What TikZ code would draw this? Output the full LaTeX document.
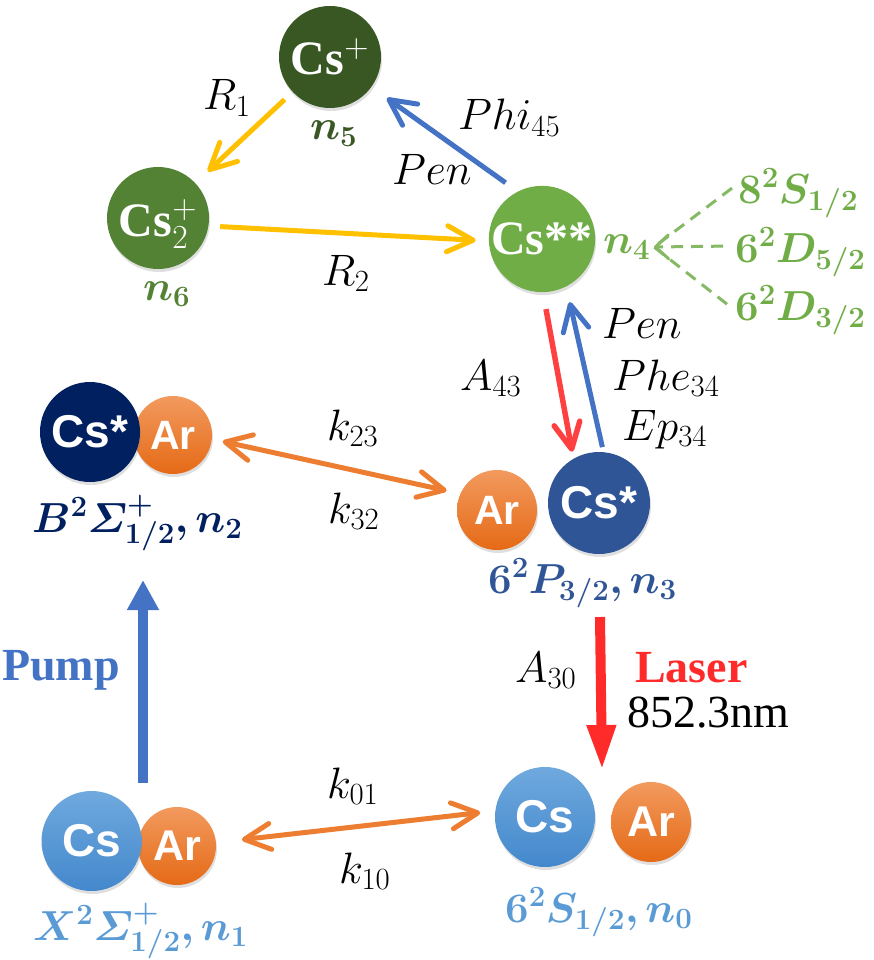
\documentclass[tikz,border=0pt]{standalone}
\usepackage{fix-cm}
\usepackage{amsmath}
\usepackage{bm}
\usepackage{fontspec}
\newfontfamily\sansfam{Liberation Sans}
\newfontfamily\seriffam{Liberation Serif}
\usetikzlibrary{arrows.meta,shadows}
\definecolor{dgreen}{HTML}{385723}
\definecolor{mgreen}{HTML}{548235}
\definecolor{lgreen}{HTML}{70AD47}
\definecolor{navyc}{HTML}{002060}
\definecolor{mblue}{HTML}{2F5597}
\definecolor{lblue}{HTML}{5B9BD5}
\definecolor{lbluetop}{HTML}{6FA9DE}
\definecolor{lbluebot}{HTML}{4488CC}
\definecolor{artop}{HTML}{F29A5E}
\definecolor{arbot}{HTML}{E56A16}
\definecolor{aorange}{HTML}{ED7D31}
\definecolor{ayellow}{HTML}{FFC000}
\definecolor{ablue}{HTML}{4472C4}
\definecolor{ared}{HTML}{FF4040}
\definecolor{lred}{HTML}{FF2A2A}
\tikzset{
  ball/.style={circle, inner sep=0pt, text=white,
    drop shadow={shadow xshift=1pt, shadow yshift=-3pt, opacity=0.25}},
  bigball/.style={ball, minimum size=102pt},
  csball/.style={ball, minimum size=100pt},
  arball/.style={ball, minimum size=78pt, top color=artop, bottom color=arbot,
    font=\sansfam\bfseries\fontsize{41}{45}\selectfont},
  sfont/.style={font=\seriffam\bfseries\fontsize{48}{50}\selectfont},
  afont/.style={font=\sansfam\bfseries\fontsize{46}{50}\selectfont},
  mlab/.style={font=\fontsize{44}{50}\selectfont, inner sep=0pt, anchor=base west},
  blab/.style={font=\fontsize{42}{50}\selectfont, inner sep=0pt, anchor=base west},
  openhead/.tip={Straight Barb[length=26pt,width=26pt,round]},
  yarr/.style={draw=ayellow, line width=5pt, -openhead},
  barr/.style={draw=ablue, line width=5pt, -openhead},
  rarr/.style={draw=ared, line width=5.5pt, -openhead},
  oarr/.style={draw=aorange, line width=5pt, openhead-openhead},
  gdash/.style={draw=lgreen!85!white, line width=3pt, dash pattern=on 12pt off 8pt},
  thickarr/.style={line width=10pt},
}
\begin{document}
\begin{tikzpicture}[x=1pt,y=-1pt]
\useasboundingbox (0,0) rectangle (873,960);

% ---- ions and excited atoms
\node[bigball, fill=dgreen, sfont] (csp) at (330,57) {Cs$^{+}$};
\node[bigball, fill=mgreen, sfont, text depth=0pt] (cs2) at (158,218) {Cs$^{+}_{2}$};
\node[bigball, fill=lgreen, sfont] (csss) at (542,239) {Cs**};

% ---- molecules / atoms
\node[arball] (arB) at (173,435) {Ar};
\node[csball, fill=navyc, afont] (csB) at (90,432) {Cs*};

\node[arball, minimum size=80pt] (arP) at (497,510) {Ar};
\node[bigball, fill=mblue, afont] (csP) at (599,503) {Cs*};

\node[arball, font=\sansfam\bfseries\fontsize{43}{45}\selectfont] (arX) at (177,846) {Ar};
\node[csball, top color=lbluetop, bottom color=lbluebot, afont] (csX) at (91.5,841) {Cs};

\node[csball, top color=lbluetop, bottom color=lbluebot, afont] (csS) at (545,817) {Cs};
\node[arball, minimum size=80pt, font=\sansfam\bfseries\fontsize{43}{45}\selectfont] (arS) at (651,822) {Ar};

% ---- population labels
\node[blab, text=dgreen] (n5) at (310,140) {$\bm{n_{5}}$};
\node[blab, text=mgreen] (n6) at (143,300) {$\bm{n_{6}}$};
\node[blab, text=lgreen] (n4) at (603,253) {$\bm{n_{4}}$};
\node[blab, text=lgreen] (s8) at (738,203) {$\bm{8^{2}S_{1/2}}$};
\node[blab, text=lgreen] (d5) at (735,262) {$\bm{6^{2}D_{5/2}}$};
\node[blab, text=lgreen] (d3) at (735,320) {$\bm{6^{2}D_{3/2}}$};
\node[blab, text=navyc] (labB) at (32,532) {$\bm{B^{2}\varSigma^{+}_{1/2}}\bm{,}\bm{n_{2}}$};
\node[blab, text=mblue] (labP) at (488,593) {$\bm{6^{2}P_{3/2}}\bm{,}\bm{n_{3}}$};
\node[blab, text=lblue] (labX) at (33,940) {$\bm{X^{2}\varSigma^{+}_{1/2}}\bm{,}\bm{n_{1}}$};
\node[blab, text=lblue] (labS) at (505,922) {$\bm{6^{2}S_{1/2}}\bm{,}\bm{n_{0}}$};

% ---- rate labels
\node[mlab] (R1) at (203,110) {$R_1$};
\node[mlab] (R2) at (322,285) {$R_2$};
\node[mlab] (Phi) at (458,130) {$Phi_{45}$};
\node[mlab] (Pen1) at (392,185) {$Pen$};
\node[mlab] (Pen2) at (602,338) {$Pen$};
\node[mlab] (Phe) at (612,390) {$Phe_{34}$};
\node[mlab] (Ep) at (622,440) {$Ep_{34}$};
\node[mlab] (A43) at (460,390) {$A_{43}$};
\node[mlab] (k23) at (327,440) {$k_{23}$};
\node[mlab] (k32) at (328,523) {$k_{32}$};
\node[mlab] (k01) at (327,798) {$k_{01}$};
\node[mlab] (k10) at (339,883) {$k_{10}$};
\node[mlab] (A30) at (515,682) {$A_{30}$};
\node[inner sep=0pt, anchor=base west, text=lred, font=\seriffam\bfseries\fontsize{46}{50}\selectfont] (laser) at (635,682) {Laser};
\node[inner sep=0pt, anchor=base west, font=\seriffam\fontsize{46}{50}\selectfont] (wl) at (627,727) {852.3nm};
\node[inner sep=0pt, anchor=base west, text=ablue, font=\seriffam\bfseries\fontsize{46}{50}\selectfont] (pump) at (2,680) {Pump};

% ---- connectors
\draw[yarr, shorten <=11pt, shorten >=17pt] (csp) -- (cs2);
\draw[yarr, shorten <=11pt, shorten >=13pt] ([yshift=-8pt]cs2.east) -- ([yshift=-2pt]csss.west);
\draw[barr, shorten <=15pt, shorten >=19pt] (csss.117) -- (csp.-36);
\draw[rarr, shorten <=17pt, shorten >=7pt] (csss.-89) -- (csP.120);
\draw[barr, shorten <=5pt, shorten >=16pt] (csP.85) -- (csss.-63);
\draw[oarr, shorten <=11pt, shorten >=14pt] (arB.-6) -- (arP.156);
\draw[oarr, shorten <=26pt, shorten >=15pt] (arX.5) -- (csS.173);

\coordinate (pb) at (143,783);
\coordinate (pt) at (143,580);
\draw[thickarr, draw=ablue, -{Triangle[length=30pt,width=30pt]}] (pb) -- (pt);
\coordinate (lt) at (600,617);
\coordinate (lb) at (602,770);
\draw[thickarr, draw=lred, -{Triangle[length=45pt,width=27pt]}] (lt) -- (lb);

\coordinate (n4t) at (654,247);
\draw[gdash] ([shift={(-6pt,5pt)}]s8.west) -- (n4t);
\draw[gdash] ([shift={(-8pt,6pt)}]d3.west) -- (n4t);
\draw[gdash, -{Straight Barb[length=13pt,width=24pt,round]}] ([shift={(-12pt,6pt)}]d5.west) -- (n4t);
\end{tikzpicture}
\end{document}
